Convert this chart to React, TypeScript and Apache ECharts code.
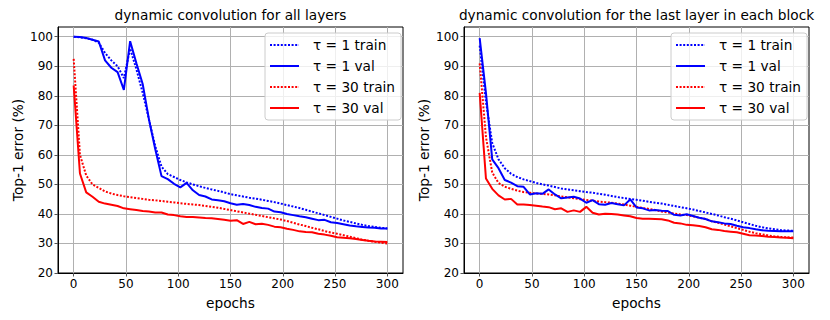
import React, { useEffect, useRef } from "react";
import * as echarts from "echarts";

const epochs = [0, 6, 12, 18, 24, 30, 36, 42, 48, 54, 60, 66, 72, 78, 84, 90, 96, 102, 108, 114, 120, 126, 132, 138, 144, 150, 156, 162, 168, 174, 180, 186, 192, 198, 204, 210, 216, 222, 228, 234, 240, 246, 252, 258, 264, 270, 276, 282, 288, 294, 300];

const xTicks = [0, 50, 100, 150, 200, 250, 300];
const yTicks = [20, 30, 40, 50, 60, 70, 80, 90, 100];

const titles = ["dynamic convolution for all layers", "dynamic convolution for the last layer in each block"];
const seriesNames = ["τ = 1 train", "τ = 1 val", "τ = 30 train", "τ = 30 val"];

// left panel: dynamic convolution for all layers
const allT1Train = [100, 99.8, 99.5, 99, 98, 94.5, 92, 90, 86, 96, 89, 81, 72, 63, 56, 53.5, 52.5, 51.5, 50.7, 50, 49.4, 48.8, 48.3, 47.8, 47.3, 46.7, 46.3, 45.9, 45.5, 45.2, 44.8, 44.4, 44.0, 43.5, 43.0, 42.5, 42.0, 41.4, 40.8, 40.2, 39.6, 39.0, 38.4, 37.8, 37.3, 36.8, 36.3, 35.9, 35.6, 35.3, 35.1];
const allT1Val = [100, 99.9, 99.6, 99, 98.4, 92, 89.5, 88, 82, 98.5, 91, 84, 72, 62, 52.8, 51.8, 50.2, 49, 50.5, 48, 46.4, 45.9, 44.9, 44.6, 44.3, 43.6, 43.1, 43.4, 43.0, 42.4, 42.0, 41.8, 40.8, 40.6, 40.0, 39.6, 39.2, 38.9, 38.4, 37.9, 38.0, 37.2, 36.9, 36.5, 36.1, 35.8, 35.6, 35.4, 35.3, 35.1, 35.1];
const allT30Train = [92.5, 60, 53, 50, 48.8, 47.6, 46.9, 46.4, 46.0, 45.7, 45.4, 45.1, 44.8, 44.6, 44.4, 44.1, 43.9, 43.6, 43.4, 43.2, 43.0, 42.7, 42.4, 42.1, 41.7, 41.3, 40.9, 40.5, 40.1, 39.7, 39.3, 38.9, 38.5, 38.1, 37.6, 37.0, 36.4, 35.9, 35.3, 34.8, 34.2, 33.7, 33.3, 32.8, 32.3, 31.8, 31.3, 30.9, 30.6, 30.3, 30.0];
const allT30Val = [83.5, 53.7, 47.3, 45.8, 44.1, 43.5, 43.1, 42.7, 41.9, 41.6, 41.3, 41.0, 40.8, 40.5, 40.5, 39.8, 39.6, 39.2, 39.0, 39.0, 38.8, 38.6, 38.5, 38.3, 38.0, 37.7, 37.9, 36.6, 37.3, 36.5, 36.7, 36.3, 35.7, 35.5, 35.0, 34.6, 34.1, 33.9, 33.8, 33.3, 33.0, 32.6, 32.1, 31.9, 31.8, 31.5, 31.2, 30.9, 30.7, 30.6, 30.5];

// right panel: dynamic convolution for the last layer in each block
const lastT1Train = [97, 78, 64, 58.5, 55.5, 53.6, 52.5, 51.7, 51.1, 50.5, 50.0, 49.6, 49.1, 48.6, 48.3, 48.0, 47.7, 47.4, 47.2, 46.8, 46.5, 46.1, 45.7, 45.4, 45.1, 44.8, 44.5, 44.1, 43.8, 43.5, 43.1, 42.7, 42.3, 41.9, 41.5, 41.0, 40.5, 40.0, 39.5, 38.9, 38.4, 37.8, 37.2, 36.6, 36.0, 35.5, 35.1, 34.8, 34.5, 34.4, 34.3];
const lastT1Val = [99.5, 81, 58.5, 55.5, 51.5, 50.6, 49.4, 49.2, 46.6, 47.0, 46.8, 48.3, 46.6, 45.3, 45.6, 45.8, 45.2, 43.8, 44.7, 43.3, 43.1, 43.7, 43.3, 42.9, 44.9, 42.2, 41.9, 41.2, 41.3, 41.1, 41.0, 39.7, 39.5, 39.9, 39.3, 38.7, 38.3, 37.5, 37.2, 36.8, 36.6, 36.0, 35.5, 35.2, 34.8, 34.5, 34.3, 34.2, 34.1, 34.1, 34.1];
const lastT30Train = [91, 66, 54, 50.5, 49.2, 48.5, 47.9, 47.4, 47.2, 46.9, 46.8, 46.6, 46.3, 45.9, 45.6, 45.3, 45.0, 44.7, 44.5, 44.2, 44.0, 43.8, 43.5, 43.2, 42.8, 42.4, 42.0, 41.7, 41.3, 40.8, 40.5, 40.1, 39.8, 39.6, 39.2, 38.7, 38.3, 37.5, 37.0, 36.4, 35.8, 35.2, 34.6, 34.0, 33.5, 33.1, 32.7, 32.4, 32.2, 32.1, 32.0];
const lastT30Val = [81, 52, 48.5, 46.3, 44.9, 45.1, 43.2, 43.2, 43.0, 42.8, 42.5, 42.3, 41.6, 41.9, 40.7, 41.2, 40.7, 42.4, 40.4, 39.8, 40.1, 40.0, 39.8, 39.5, 39.2, 38.6, 38.4, 38.4, 38.3, 38.2, 37.8, 37.0, 36.8, 36.3, 36.2, 35.9, 35.5, 34.8, 34.6, 34.2, 34.0, 33.8, 33.3, 32.8, 32.7, 32.5, 32.3, 32.2, 32.0, 31.9, 31.8];

const panels = [
  [allT1Train, allT1Val, allT30Train, allT30Val],
  [lastT1Train, lastT1Val, lastT30Train, lastT30Val],
];

const FONT = "DejaVu Sans";
const FS_TICK = 12;
const FS_TEXT = 13.7;

export default function App() {
  const ref = useRef<HTMLDivElement>(null);
  useEffect(() => {
    if (!ref.current) return;
    const chart = echarts.init(ref.current, undefined, { renderer: "svg" });
    const gridLefts = [58, 464];
    const gridW = 345;
    const colors = ["#0000ff", "#0000ff", "#ff0000", "#ff0000"];
    const dotted = [true, false, true, false];

    const series: any[] = [];
    panels.forEach((arrs, gi) => {
      arrs.forEach((vals, si) => {
        series.push({
          type: "line",
          name: seriesNames[si],
          xAxisIndex: gi,
          yAxisIndex: gi,
          data: epochs.map((e, i) => [e, vals[i]]),
          symbol: "none",
          lineStyle: {
            color: colors[si],
            width: 2,
            type: dotted[si] ? [2, 1.6] : "solid",
          },
          itemStyle: { color: colors[si] },
          z: 10 - si,
        });
      });
    });

    const tickText = { fontFamily: FONT, fontSize: FS_TICK, color: "#000" };
    const bigText = { fontFamily: FONT, fontSize: FS_TEXT, color: "#000" };

    chart.setOption({
      animation: false,
      textStyle: { fontFamily: FONT },
      title: gridLefts.map((l, i) => ({
        text: titles[i],
        left: l + gridW / 2,
        top: 8,
        textAlign: "center",
        padding: 0,
        textStyle: { ...bigText, fontWeight: "normal" },
      })),
      legend: gridLefts.map((l) => ({
        data: seriesNames,
        orient: "vertical",
        left: l + 207,
        top: 33,
        itemWidth: 29,
        itemHeight: 14,
        itemGap: 5,
        padding: [4, 6, 4, 4],
        backgroundColor: "rgba(255,255,255,0.8)",
        borderColor: "#cccccc",
        borderWidth: 1,
        borderRadius: 3,
        selectedMode: false,
        itemStyle: { opacity: 0 },
        textStyle: { ...bigText, lineHeight: 16, padding: [0, 0, 0, 9] },
      })),
      grid: gridLefts.map((l) => ({
        left: l,
        top: 27,
        width: gridW,
        height: 246,
        show: true,
        borderColor: "#000",
        borderWidth: 1,
        backgroundColor: "transparent",
        containLabel: false,
      })),
      xAxis: gridLefts.map((_, i) => ({
        type: "value",
        gridIndex: i,
        min: -15,
        max: 315,
        name: "epochs",
        nameLocation: "middle",
        nameGap: 23,
        nameTextStyle: bigText,
        axisLine: { show: true, onZero: false, lineStyle: { color: "#000", width: 1 } },
        axisTick: { show: true, inside: false, length: 3.5, lineStyle: { color: "#555" }, customValues: xTicks },
        axisLabel: { ...tickText, margin: 5, customValues: xTicks },
        splitLine: { show: true, lineStyle: { color: "#b0b0b0", width: 1 } },
      })),
      yAxis: gridLefts.map((_, i) => ({
        type: "value",
        gridIndex: i,
        min: 20,
        max: 103.3,
        interval: 10,
        name: "Top-1 error (%)",
        nameLocation: "middle",
        nameGap: 33,
        nameTextStyle: bigText,
        axisLine: { show: true, onZero: false, lineStyle: { color: "#000", width: 1 } },
        axisTick: { show: true, inside: false, length: 3.5, lineStyle: { color: "#555" }, customValues: yTicks },
        axisLabel: { ...tickText, margin: 5, customValues: yTicks },
        splitLine: { show: true, lineStyle: { color: "#b0b0b0", width: 1 } },
      })),
      series,
    });
    return () => chart.dispose();
  }, []);
  return <div ref={ref} style={{ width: 830, height: 320, position: "absolute", left: 0, top: 0 }} />;
}
